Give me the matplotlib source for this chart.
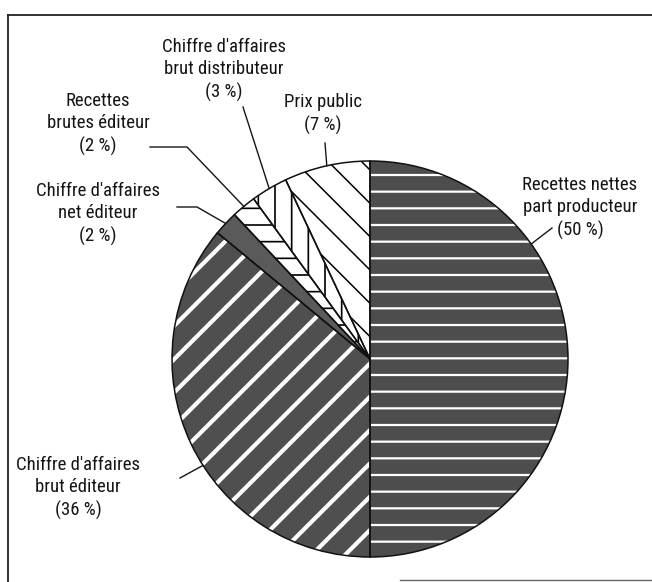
import matplotlib
matplotlib.use("Agg")
import numpy as np
import matplotlib.pyplot as plt
from matplotlib import font_manager
from matplotlib.patches import Wedge

# data
labels = ["Recettes nettes\npart producteur", "Chiffre d'affaires\nbrut éditeur",
          "Chiffre d'affaires\nnet éditeur", "Recettes\nbrutes éditeur",
          "Chiffre d'affaires\nbrut distributeur", "Prix public"]
shares = [50, 36, 2, 2, 3, 7]

# styling per slice: fill, hatch, hatch colour, hatch width
fills = ["#4d4d4d", "#4f4f4f", "#5a5a5a", "white", "white", "white"]
hatches = ["-", "/", "", "-", "|", "\\"]
hatch_cols = ["white", "white", "#5a5a5a", "black", "black", "black"]
hatch_lws = [1.6, 3.0, 1.0, 1.2, 1.2, 1.1]

# layout (pixel coords from top left)
W, H = 652, 582
cx, cy, R = 370, 359, 198
text_pos = [(580, 208), (78, 488), (98, 214), (98, 124), (224, 70), (323, 114)]
leader_start = [[(552, 228)], [(180, 478)], [(177, 207), (197, 207)],
                [(150, 147), (187, 147)], [(243, 107)], [(325, 143)]]
leader_angle = [35.5, 212.5, None, None, None, None]  # None -> mid angle

# pick a narrow face if one is there
installed = {f.name for f in font_manager.fontManager.ttflist}
font_name, font_size = 'Liberation Sans', 11.5
for name, size in [('Liberation Sans Narrow', 14), ('DejaVu Sans Condensed', 11.5),
                   ('Roboto Condensed', 13.5), ('Open Sans Condensed', 13.5)]:
    if name in installed:
        font_name, font_size = name, size
        break
plt.rcParams['font.family'] = [font_name, 'DejaVu Sans']

fig = plt.figure(figsize=(W / 100, H / 100), dpi=100)
ax = fig.add_axes([0, 0, 1, 1])


def fy(y):
    return H - y


wedges, _ = ax.pie(shares, startangle=90, counterclock=False,
                   center=(cx, fy(cy)), radius=R)
for w, fc, h, hc, hl in zip(wedges, fills, hatches, hatch_cols, hatch_lws):
    w.set_facecolor(fc)
    w.set_edgecolor(hc)
    w.set_linewidth(0)
    w.set_hatch(h)
    if hasattr(w, "set_hatch_linewidth"):
        w.set_hatch_linewidth(hl)
    else:
        w._hatch_linewidth = hl
    # outline on top
    ax.add_patch(Wedge(w.center, w.r, w.theta1, w.theta2, facecolor="none",
                       edgecolor="#111111", linewidth=1.1, zorder=3))

for i, w in enumerate(wedges):
    pct = "(%d %%)" % shares[i]
    tx, ty = text_pos[i]
    ax.text(tx, fy(ty), labels[i] + "\n" + pct, ha="center", va="center",
            fontsize=font_size, color="#151515", linespacing=1.33)
    ang = leader_angle[i]
    if ang is None:
        ang = (w.theta1 + w.theta2) / 2
    px = cx + R * np.cos(np.radians(ang))
    py = fy(cy) + R * np.sin(np.radians(ang))
    xs = [p[0] for p in leader_start[i]] + [px]
    ys = [fy(p[1]) for p in leader_start[i]] + [py]
    ax.plot(xs, ys, color="#151515", lw=1.0, zorder=4)

# scanned frame
ax.plot([8, 8], [fy(15), fy(582)], color="#222222", lw=1.3)
ax.plot([8, 652], [fy(15), fy(15)], color="#222222", lw=1.3)
ax.plot([400, 652], [fy(580), fy(580)], color="#666666", lw=1.0)

ax.set_xlim(0, W)
ax.set_ylim(0, H)
ax.set_aspect("auto")
ax.axis("off")
fig.savefig("out.png", dpi=100)
